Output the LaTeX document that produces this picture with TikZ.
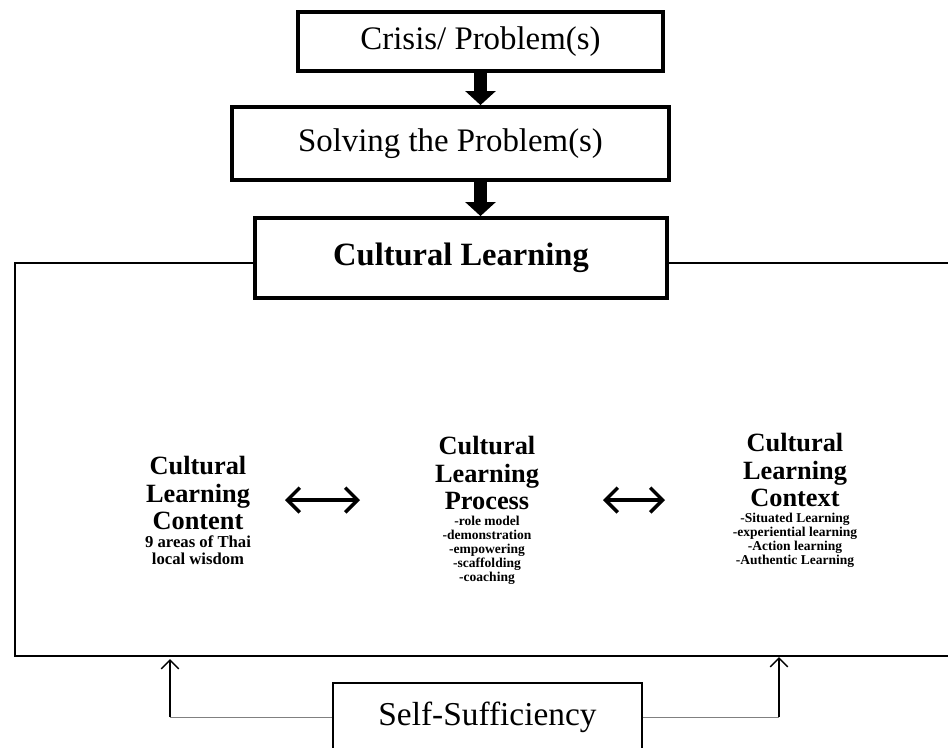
\documentclass[tikz,border=0pt]{standalone}
\usepackage{fontspec}
\setmainfont{Liberation Serif}
\usetikzlibrary{arrows.meta, positioning}

\begin{document}
\begin{tikzpicture}[x=0.02cm, y=-0.02cm,
	stage/.style={draw, line width=2.2pt, fill=white, inner sep=0pt, font=\fontsize{18.7}{20}\selectfont},
	fatarrow/.style={line width=7pt, -{Triangle[width=17pt, length=8pt]}},
	heading/.style={align=center, inner sep=0pt, font=\bfseries\fontsize{15}{15.9}\selectfont},
	note/.style={align=center, inner sep=0pt, font=\bfseries\fontsize{7.7}{8}\selectfont},
	pairarrow/.style={line width=2pt, {Straight Barb[length=7pt, width=14pt]}-{Straight Barb[length=7pt, width=14pt]}},
	feedback/.style={line width=0.9pt, -{Straight Barb[length=5pt, width=10pt]}},
	link/.style={line width=0.4pt, gray}]
	\useasboundingbox (0,0) rectangle (948,748);
	\clip (0,0) rectangle (948,748);

	% outer frame, open to the right
	\node[draw, line width=1.2pt, minimum width=19cm, minimum height=7.86cm, anchor=north west, inner sep=0pt] (frame) at (14,262) {};

	\node[stage, minimum width=7.3cm, minimum height=1.18cm] (crisis) at (480.5,41.5) {Crisis/ Problem(s)};
	\node[stage, minimum width=8.74cm, minimum height=1.46cm] (solving) at (450.5,143.5) {Solving the Problem(s)};
	\node[stage, minimum width=8.24cm, minimum height=1.6cm, font=\bfseries\fontsize{18.5}{20}\selectfont] (learning) at (461,258) {Cultural Learning};
	\draw[fatarrow] (crisis.south) -- (crisis.south |- solving.north);
	\draw[fatarrow] (solving.south -| crisis.south) -- (learning.north -| crisis.south);

	% three parts of cultural learning
	\node[heading] (content) at (198,493) {Cultural\\Learning\\Content};
	\node[note, font=\bfseries\fontsize{9.5}{9.5}\selectfont, below=3pt of content] (contentnote) {9 areas of Thai\\local wisdom};
	\node[heading] (process) at (487,473) {Cultural\\Learning\\Process};
	\node[note, below=3pt of process] (processnote) {-role model\\-demonstration\\-empowering\\-scaffolding\\-coaching};
	\node[heading] (context) at (795,470) {Cultural\\Learning\\Context};
	\node[note, below=3pt of context] (contextnote) {-Situated Learning\\-experiential learning\\-Action learning\\-Authentic Learning};

	\coordinate (ca) at (285,500);
	\coordinate (cb) at (360,500);
	\coordinate (pa) at (603,500);
	\coordinate (pb) at (665,500);
	\draw[pairarrow] (ca) -- (cb);
	\draw[pairarrow] (pa) -- (pb);

	% self-sufficiency feeding back
	\node[draw, line width=0.9pt, fill=white, minimum width=6.18cm, minimum height=1.36cm, font=\fontsize{19}{20}\selectfont] (self) at (487.5,717) {Self-Sufficiency};
	\coordinate (upL) at (170,659);
	\coordinate (upR) at (779,657);
	\draw[link] (self.west) -- (self.west -| upL);
	\draw[link] (self.east) -- (self.east -| upR);
	\draw[feedback] (self.west -| upL) -- (upL);
	\draw[feedback] (self.east -| upR) -- (upR);
\end{tikzpicture}
\end{document}
